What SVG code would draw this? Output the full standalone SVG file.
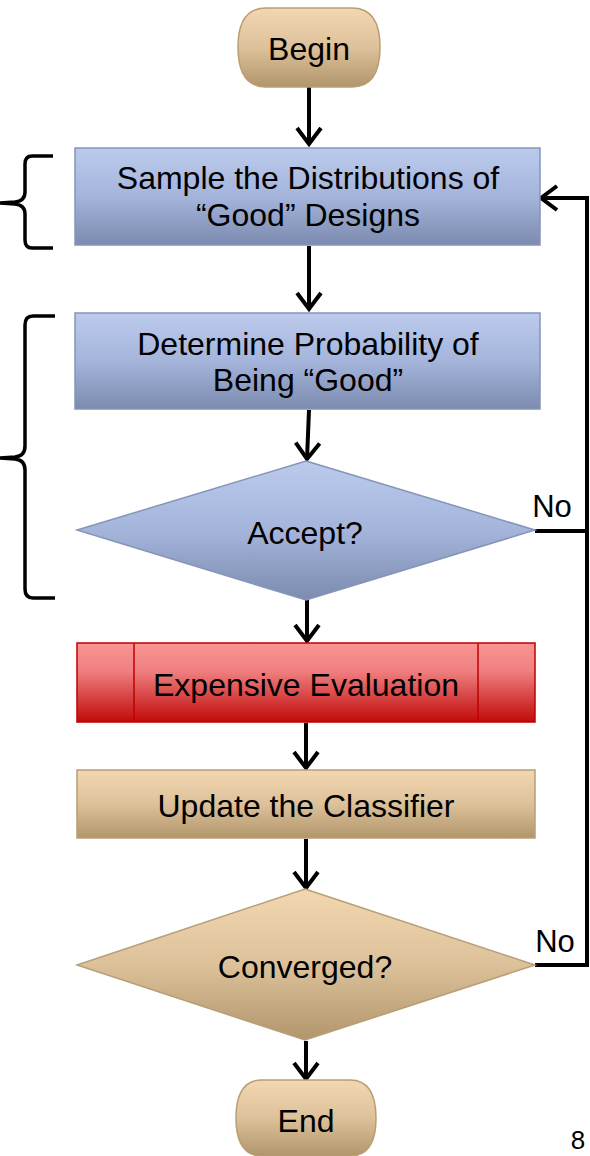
<svg xmlns="http://www.w3.org/2000/svg" width="590" height="1156" viewBox="0 0 590 1156">
<style>
text{font-family:"Liberation Sans",Arial,sans-serif;fill:#000;text-anchor:middle}
.t{font-size:32px}
.no{font-size:31px}
.blue{fill:url(#gBlue);stroke:#8595b8;stroke-width:1.5}
.tan{fill:url(#gTan);stroke:#b89e74;stroke-width:1.5}
.red{fill:url(#gRed);stroke:#c00000;stroke-width:1.5}
.c{fill:none;stroke:#000;stroke-width:4}
.br{fill:none;stroke:#000;stroke-width:3.5}
</style>
<defs>
<linearGradient id="gBlue" x1="0" y1="0" x2="0" y2="1"><stop offset="0" stop-color="#bccbec"/><stop offset="0.5" stop-color="#a4b4db"/><stop offset="1" stop-color="#7c8bae"/></linearGradient>
<linearGradient id="gTan" x1="0" y1="0" x2="0" y2="1"><stop offset="0" stop-color="#f2d7b0"/><stop offset="0.5" stop-color="#ddc19a"/><stop offset="1" stop-color="#b1956b"/></linearGradient>
<linearGradient id="gRed" x1="0" y1="0" x2="0" y2="1"><stop offset="0" stop-color="#fb9494"/><stop offset="0.35" stop-color="#f08080"/><stop offset="1" stop-color="#c00a0a"/></linearGradient>
<marker id="ah" markerUnits="userSpaceOnUse" markerWidth="30" markerHeight="30" refX="16" refY="12" orient="auto" overflow="visible">
<path d="M0,0 L16,12 L0,24" fill="none" stroke="#000" stroke-width="4" stroke-linejoin="miter"/>
</marker>
</defs>
<g id="connectors">
<line class="c" x1="309" y1="87" x2="309" y2="144" marker-end="url(#ah)"/>
<line class="c" x1="309" y1="246" x2="309" y2="309" marker-end="url(#ah)"/>
<line class="c" x1="309" y1="410" x2="307" y2="459" marker-end="url(#ah)"/>
<line class="c" x1="307" y1="600" x2="307" y2="641" marker-end="url(#ah)"/>
<line class="c" x1="306" y1="723" x2="306" y2="768" marker-end="url(#ah)"/>
<line class="c" x1="306" y1="839" x2="306" y2="888" marker-end="url(#ah)"/>
<line class="c" x1="306" y1="1041" x2="306" y2="1079" marker-end="url(#ah)"/>
<polyline class="c" points="535,531 587,531"/>
<polyline class="c" points="535,965 587,965 587,198 541,198" marker-end="url(#ah)"/>
<text class="no" x="552" y="517">No</text>
<text class="no" x="555" y="952">No</text>
</g>
<g id="begin">
<path class="tan" d="M266,8 L352,8 Q380,8 380,47 Q380,87 352,87 L266,87 Q238,87 238,47 Q238,8 266,8 Z"/>
<text class="t" x="309" y="60">Begin</text>
</g>
<g id="sample">
<rect class="blue" x="75" y="148" width="465" height="97"/>
<text class="t" x="308" y="189">Sample the Distributions of</text>
<text class="t" x="308" y="226">“Good” Designs</text>
</g>
<g id="determine">
<rect class="blue" x="75" y="313" width="465" height="96"/>
<text class="t" x="308" y="355">Determine Probability of</text>
<text class="t" x="308" y="391">Being “Good”</text>
</g>
<g id="accept">
<polygon class="blue" points="306,461 535,530 306,600 77,530"/>
<text class="t" x="305" y="544">Accept?</text>
</g>
<g id="expensive">
<rect class="red" x="77" y="643" width="458" height="79"/>
<line x1="134" y1="643" x2="134" y2="722" stroke="#c00000" stroke-width="1.5"/>
<line x1="478" y1="643" x2="478" y2="722" stroke="#c00000" stroke-width="1.5"/>
<text class="t" x="306" y="696">Expensive Evaluation</text>
</g>
<g id="update">
<rect class="tan" x="77" y="770" width="458" height="68"/>
<text class="t" x="306" y="817">Update the Classifier</text>
</g>
<g id="converged">
<polygon class="tan" points="305,889 535,965 305,1040 77,965"/>
<text class="t" x="305" y="978">Converged?</text>
</g>
<g id="end">
<path class="tan" d="M262,1080 L350,1080 Q376,1080 376,1118 Q376,1156 350,1156 L262,1156 Q236,1156 236,1118 Q236,1080 262,1080 Z"/>
<text class="t" x="306" y="1132">End</text>
</g>
<g id="braces">
<path class="br" d="M53,156 L32,156 Q25,156 25,164 L25,192 Q25,201 15,202 L0,203 L15,204 Q25,205 25,214 L25,240 Q25,248 32,248 L53,248"/>
<path class="br" d="M55,316 L33,316 Q25,316 25,325 L25,446 Q25,456 15,457 L0,458 L15,459 Q25,460 25,470 L25,589 Q25,598 33,598 L55,598"/>
</g>
<text x="578" y="1149" style="font-size:26px">8</text>
</svg>
